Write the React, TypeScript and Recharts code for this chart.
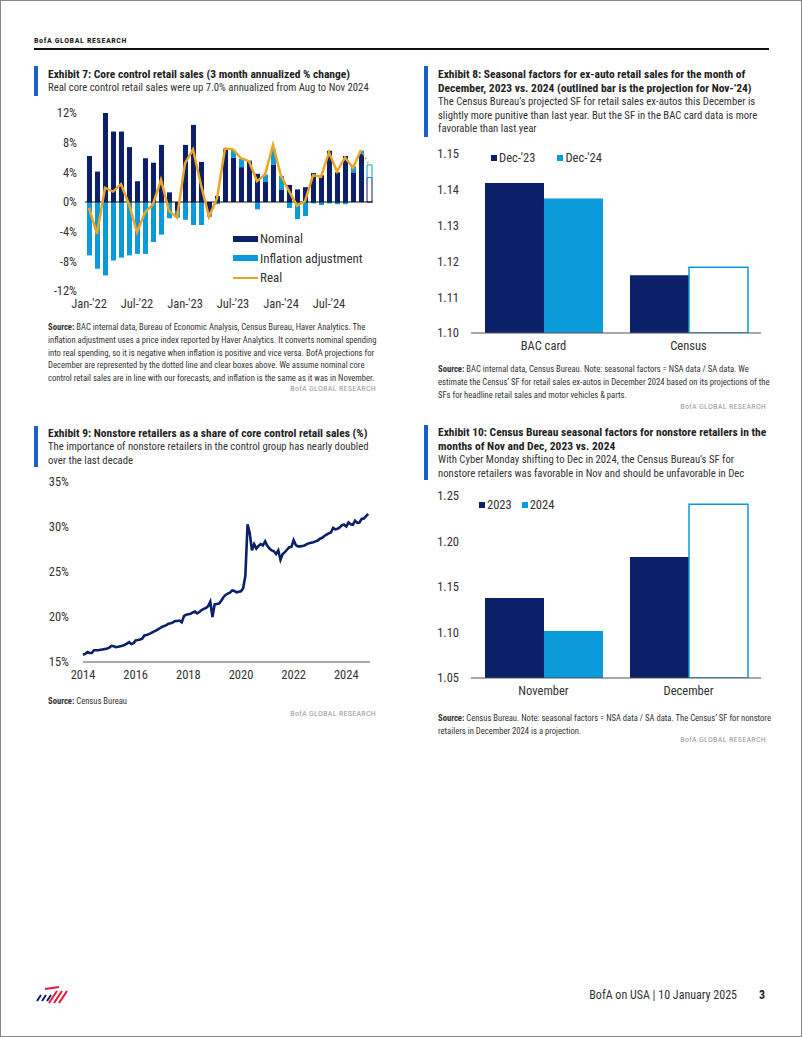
import React from "react";
import {
  Bar,
  BarChart,
  Cell,
  ComposedChart,
  Line,
  LineChart,
  ReferenceLine,
  XAxis,
  YAxis,
} from "recharts";

const FONT =
  "'Liberation Sans Narrow', 'Roboto Condensed', 'DejaVu Sans Condensed', 'Liberation Sans', sans-serif";

const NAVY = "#0B2068";
const LIGHT = "#0B9ADA";
const GOLD = "#EBA625";
const ACCENT = "#1C5FC9";
const TEXT = "#222";

// Exhibit 7: core control retail sales, 3m annualized % change
const monthLabels = [
  "Jan-'22", "Feb-'22", "Mar-'22", "Apr-'22", "May-'22", "Jun-'22",
  "Jul-'22", "Aug-'22", "Sep-'22", "Oct-'22", "Nov-'22", "Dec-'22",
  "Jan-'23", "Feb-'23", "Mar-'23", "Apr-'23", "May-'23", "Jun-'23",
  "Jul-'23", "Aug-'23", "Sep-'23", "Oct-'23", "Nov-'23", "Dec-'23",
  "Jan-'24", "Feb-'24", "Mar-'24", "Apr-'24", "May-'24", "Jun-'24",
  "Jul-'24", "Aug-'24", "Sep-'24", "Oct-'24", "Nov-'24", "Dec-'24",
];
const nominal = [
  6.2, 4.1, 12.0, 9.5, 9.5, 7.4, 2.8, 5.9, 5.3, 7.7, 1.3, -1.2,
  7.7, 10.4, 5.4, -1.4, 0.8, 7.1, 6.0, 4.7, 5.5, 3.8, 2.7, 5.0,
  1.7, 2.3, 1.7, 2.0, 3.9, 3.6, 6.9, 4.0, 6.2, 4.0, 6.5, 3.3,
];
const inflationAdj = [
  -7.2, -9.0, -9.9, -7.9, -7.5, -7.2, -7.0, -7.0, -5.4, -4.4, -2.2, -0.9,
  -2.4, -3.1, -3.1, -0.6, -0.3, 0.1, 1.0, 1.1, 0.1, -1.0, 1.0, 2.1,
  1.8, -0.8, -2.3, -1.9, -0.2, -0.4, -0.2, -0.3, -0.3, 0.8, 0.4, 1.7,
];
const real = [
  -0.8, -4.3, 1.9, 1.4, 2.4, -0.3, -4.1, -1.4, -0.3, 3.0, -1.2, -2.1,
  5.2, 7.1, 2.3, -2.0, 0.5, 7.2, 7.1, 5.9, 5.5, 2.8, 3.7, 7.7,
  3.5, 1.5, -0.5, 0.1, 3.6, 3.4, 6.7, 4.1, 6.0, 4.6, 7.0,
];
const realProjected = [7.0, 5.0]; // Nov-'24 actual -> Dec-'24 projection
const projectionFrom = 34;

const ex7Data = monthLabels.map((month, i) => ({
  month,
  nominal: nominal[i],
  inflation: inflationAdj[i],
  real: i < real.length ? real[i] : null,
  projected: i >= projectionFrom ? realProjected[i - projectionFrom] : null,
}));

// Exhibit 8: seasonal factors, retail sales ex-autos
const ex8Categories = ["BAC card", "Census"];
const ex8Dec23 = [1.1419, 1.1161];
const ex8Dec24 = [1.1376, 1.1184];
const ex8Data = ex8Categories.map((name, i) => ({
  name,
  prev: ex8Dec23[i],
  curr: ex8Dec24[i],
}));

// Exhibit 9: nonstore share of control group, monthly from Jan 2014
const startYear = 2014;
const nonstoreShare = [
  15.8, 15.9, 16.1, 16.0, 16.0, 16.3, 16.3, 16.3, 16.35, 16.4, 16.45, 16.5,
  16.6, 16.8, 16.75, 16.65, 16.7, 16.75, 16.8, 16.9, 17.05, 17.2, 17.0, 17.1,
  17.4, 17.45, 17.5, 17.6, 17.95, 18.0, 18.1, 18.2, 18.35, 18.45, 18.6, 18.75,
  18.9, 19.0, 19.1, 19.25, 19.3, 19.4, 19.55, 19.55, 19.6, 19.4, 20.1, 20.25,
  20.3, 20.35, 20.5, 20.6, 20.4, 20.55, 20.75, 20.9, 21.0, 21.2, 21.7, 20.0,
  21.4, 21.45, 21.5, 21.8, 22.2, 22.45, 22.6, 22.7, 22.95, 22.9, 22.75, 22.8,
  22.85, 23.2, 24.6, 30.3, 29.3, 27.4, 28.1, 27.6, 27.9, 28.1, 27.95, 28.4,
  27.9, 27.6, 27.4, 27.3, 27.0, 27.4, 26.35, 27.0, 27.2, 27.5, 27.75, 27.8,
  28.55, 28.0, 27.85, 27.85, 27.9, 27.95, 28.1, 28.2, 28.25, 28.3, 28.4, 28.5,
  28.7, 28.8, 29.0, 29.15, 29.3, 29.4, 29.9, 29.75, 29.8, 29.95, 30.2, 30.25,
  30.05, 30.5, 30.3, 30.25, 30.7, 30.45, 30.5, 30.9, 30.95, 31.2, 31.45,
];
const ex9Data = nonstoreShare.map((v, i) => ({ t: startYear + i / 12, v }));
const ex9Years = [2014, 2016, 2018, 2020, 2022, 2024];

// Exhibit 10: nonstore seasonal factors
const ex10Categories = ["November", "December"];
const ex10Y2023 = [1.138, 1.183];
const ex10Y2024 = [1.1016, 1.241];
const ex10Data = ex10Categories.map((name, i) => ({
  name,
  prev: ex10Y2023[i],
  curr: ex10Y2024[i],
}));

const tickStyle = { fontSize: 12.5, fill: "#333", fontFamily: FONT };

function Accent({ left, top, height }: { left: number; top: number; height: number }) {
  return (
    <div
      style={{ position: "absolute", left, top, width: 4, height, background: ACCENT }}
    />
  );
}

function Heading({
  left,
  top,
  title,
  sub,
}: {
  left: number;
  top: number;
  title: string[];
  sub: string[];
}) {
  return (
    <div style={{ position: "absolute", left, top, color: TEXT, whiteSpace: "nowrap" }}>
      {title.map((t) => (
        <div key={t} style={{ fontWeight: 700, fontSize: 11.5, lineHeight: "14px" }}>
          {t}
        </div>
      ))}
      {sub.map((t) => (
        <div key={t} style={{ fontSize: 10.7, lineHeight: "13.5px", color: "#333" }}>
          {t}
        </div>
      ))}
    </div>
  );
}

function Source({ left, top, lines }: { left: number; top: number; lines: string[] }) {
  return (
    <div style={{ position: "absolute", left, top, color: "#333", whiteSpace: "nowrap" }}>
      {lines.map((t, i) => (
        <div key={t} style={{ fontSize: 8.6, lineHeight: "12.8px" }}>
          {i === 0 ? (
            <>
              <b>Source:</b>
              {t}
            </>
          ) : (
            t
          )}
        </div>
      ))}
    </div>
  );
}

function Credit({ right, top }: { right: number; top: number }) {
  return (
    <div
      style={{
        position: "absolute",
        left: right - 200,
        width: 200,
        top,
        textAlign: "right",
        fontSize: 8,
        letterSpacing: 0.3,
        color: "#999",
      }}
    >
      BofA GLOBAL RESEARCH
    </div>
  );
}

function SwatchLegend({
  left,
  top,
  items,
}: {
  left: number;
  top: number;
  items: { label: string; color: string; gap: number }[];
}) {
  return (
    <div style={{ position: "absolute", left, top, display: "flex", fontSize: 12.5, color: "#333" }}>
      {items.map((it) => (
        <div key={it.label} style={{ display: "flex", alignItems: "center", marginRight: it.gap }}>
          <span style={{ width: 6, height: 6, background: it.color, marginRight: 2 }} />
          {it.label}
        </div>
      ))}
    </div>
  );
}

function Logo() {
  return (
    <svg style={{ position: "absolute", left: 34, top: 984 }} width={34} height={20}>
      {[0, 1, 2].map((k) => (
        <line key={"n" + k} x1={2 + k * 5} y1={16} x2={6 + k * 5} y2={10} stroke={NAVY} strokeWidth={2} />
      ))}
      {[0, 1, 2].map((k) => (
        <line key={"r" + k} x1={14 + k * 5} y1={18} x2={22 + k * 5} y2={6} stroke="#E31837" strokeWidth={2} />
      ))}
      <line x1={10} y1={4} x2={24} y2={2} stroke="#E31837" strokeWidth={2} />
    </svg>
  );
}

export default function App() {
  const lastIdx = monthLabels.length - 1;
  return (
    <div
      style={{
        position: "relative",
        width: 802,
        height: 1037,
        boxSizing: "border-box",
        border: "1px solid #888",
        background: "#fff",
        fontFamily: FONT,
        overflow: "hidden",
      }}
    >
      <style>{"body{margin:0}"}</style>

      {/* page header */}
      <div
        style={{
          position: "absolute",
          left: 33,
          top: 35,
          fontSize: 8,
          fontWeight: 700,
          letterSpacing: 0.6,
          color: "#222",
        }}
      >
        BofA GLOBAL RESEARCH
      </div>
      <div style={{ position: "absolute", left: 33, top: 47, width: 735, height: 1.5, background: "#111" }} />

      {/* Exhibit 7 */}
      <Accent left={33} top={65} height={30} />
      <Heading
        left={47}
        top={66}
        title={["Exhibit 7: Core control retail sales (3 month annualized % change)"]}
        sub={["Real core control retail sales were up 7.0% annualized from Aug to Nov 2024"]}
      />
      <div style={{ position: "absolute", left: 30, top: 100 }}>
        <ComposedChart
          width={342}
          height={215}
          data={ex7Data}
          stackOffset="sign"
          margin={{ top: 12, right: 0, bottom: 0, left: 0 }}
          barSize={5}
        >
          <XAxis
            dataKey="month"
            interval={5}
            axisLine={false}
            tickLine={false}
            tick={tickStyle}
            height={25}
          />
          <YAxis
            domain={[-12, 12]}
            ticks={[-12, -8, -4, 0, 4, 8, 12]}
            tickFormatter={(v) => `${v}%`}
            axisLine={false}
            tickLine={false}
            tick={tickStyle}
            width={54}
          />
          <Bar dataKey="nominal" stackId="s" fill={NAVY} isAnimationActive={false}>
            {ex7Data.map((d, i) => (
              <Cell
                key={d.month}
                fill={i === lastIdx ? "#fff" : NAVY}
                stroke={i === lastIdx ? NAVY : "none"}
                strokeWidth={1}
              />
            ))}
          </Bar>
          <Bar dataKey="inflation" stackId="s" fill={LIGHT} isAnimationActive={false}>
            {ex7Data.map((d, i) => (
              <Cell
                key={d.month}
                fill={i === lastIdx ? "#fff" : LIGHT}
                stroke={i === lastIdx ? LIGHT : "none"}
                strokeWidth={1}
              />
            ))}
          </Bar>
          <ReferenceLine y={0} stroke="#111" strokeWidth={1.2} />
          <Line
            dataKey="real"
            stroke={GOLD}
            strokeWidth={2.5}
            dot={false}
            isAnimationActive={false}
          />
          <Line
            dataKey="projected"
            stroke={GOLD}
            strokeWidth={2}
            strokeDasharray="1.5 3"
            dot={false}
            isAnimationActive={false}
          />
        </ComposedChart>
      </div>
      {/* Exhibit 7 legend */}
      <div style={{ position: "absolute", left: 232, top: 228, fontSize: 13, color: "#333" }}>
        {[
          { label: "Nominal", kind: "bar", color: NAVY },
          { label: "Inflation adjustment", kind: "bar", color: LIGHT },
          { label: "Real", kind: "line", color: GOLD },
        ].map((it) => (
          <div key={it.label} style={{ display: "flex", alignItems: "center", height: 19.5 }}>
            <span
              style={{
                width: 25,
                height: it.kind === "bar" ? 6 : 2.5,
                background: it.color,
                marginRight: 2,
              }}
            />
            {it.label}
          </div>
        ))}
      </div>
      <Source
        left={47}
        top={320}
        lines={[
          " BAC internal data, Bureau of Economic Analysis, Census Bureau, Haver Analytics. The",
          "inflation adjustment uses a price index reported by Haver Analytics. It converts nominal spending",
          "into real spending, so it is negative when inflation is positive and vice versa. BofA projections for",
          "December are represented by the dotted line and clear boxes above. We assume nominal core",
          "control retail sales are in line with our forecasts, and inflation is the same as it was in November.",
        ]}
      />
      <Credit right={375} top={383} />

      {/* Exhibit 8 */}
      <Accent left={423} top={65} height={71} />
      <Heading
        left={437}
        top={66}
        title={[
          "Exhibit 8: Seasonal factors for ex-auto retail sales for the month of",
          "December, 2023 vs. 2024 (outlined bar is the projection for Nov-’24)",
        ]}
        sub={[
          "The Census Bureau’s projected SF for retail sales ex-autos this December is",
          "slightly more punitive than last year. But the SF in the BAC card data is more",
          "favorable than last year",
        ]}
      />
      <div style={{ position: "absolute", left: 410, top: 143 }}>
        <BarChart
          width={350}
          height={219}
          data={ex8Data}
          margin={{ top: 10, right: 0, bottom: 0, left: 0 }}
          barGap={0}
          barSize={59}
        >
          <XAxis
            dataKey="name"
            axisLine={{ stroke: "#555", strokeWidth: 1.2 }}
            tickLine={false}
            tick={tickStyle}
            height={30}
          />
          <YAxis
            domain={[1.1, 1.15]}
            ticks={[1.1, 1.11, 1.12, 1.13, 1.14, 1.15]}
            tickFormatter={(v) => v.toFixed(2)}
            axisLine={false}
            tickLine={false}
            tick={tickStyle}
            tickMargin={6}
            width={60}
            allowDataOverflow
          />
          <Bar dataKey="prev" fill={NAVY} isAnimationActive={false} />
          <Bar dataKey="curr" fill={LIGHT} isAnimationActive={false}>
            {ex8Data.map((d) => (
              <Cell
                key={d.name}
                fill={d.name === "Census" ? "#fff" : LIGHT}
                stroke={d.name === "Census" ? LIGHT : "none"}
                strokeWidth={1.5}
              />
            ))}
          </Bar>
        </BarChart>
      </div>
      <SwatchLegend
        left={490}
        top={149}
        items={[
          { label: "Dec-'23", color: NAVY, gap: 22 },
          { label: "Dec-'24", color: LIGHT, gap: 0 },
        ]}
      />
      <Source
        left={437}
        top={362}
        lines={[
          " BAC internal data, Census Bureau. Note: seasonal factors = NSA data / SA data. We",
          "estimate the Census’ SF for retail sales ex-autos in December 2024 based on its projections of the",
          "SFs for headline retail sales and motor vehicles & parts.",
        ]}
      />
      <Credit right={765} top={401} />

      {/* Exhibit 9 */}
      <Accent left={33} top={425} height={41} />
      <Heading
        left={47}
        top={425}
        title={["Exhibit 9: Nonstore retailers as a share of core control retail sales (%)"]}
        sub={[
          "The importance of nonstore retailers in the control group has nearly doubled",
          "over the last decade",
        ]}
      />
      <div style={{ position: "absolute", left: 20, top: 471 }}>
        <LineChart
          width={349}
          height={220}
          data={ex9Data}
          margin={{ top: 10, right: 0, bottom: 0, left: 0 }}
        >
          <XAxis
            dataKey="t"
            type="number"
            domain={[2014, 2024.9]}
            ticks={ex9Years}
            axisLine={{ stroke: "#555", strokeWidth: 1.2 }}
            tickLine={false}
            tick={tickStyle}
            height={30}
          />
          <YAxis
            domain={[15, 35]}
            ticks={[15, 20, 25, 30, 35]}
            tickFormatter={(v) => `${v}%`}
            axisLine={false}
            tickLine={false}
            tick={tickStyle}
            tickMargin={8}
            width={62}
          />
          <Line
            dataKey="v"
            stroke={NAVY}
            strokeWidth={2.6}
            dot={false}
            isAnimationActive={false}
          />
        </LineChart>
      </div>
      <Source left={47} top={694} lines={[" Census Bureau"]} />
      <Credit right={375} top={708} />

      {/* Exhibit 10 */}
      <Accent left={423} top={424} height={55} />
      <Heading
        left={437}
        top={424}
        title={[
          "Exhibit 10: Census Bureau seasonal factors for nonstore retailers in the",
          "months of Nov and Dec, 2023 vs. 2024",
        ]}
        sub={[
          "With Cyber Monday shifting to Dec in 2024, the Census Bureau’s SF for",
          "nonstore retailers was favorable in Nov and should be unfavorable in Dec",
        ]}
      />
      <div style={{ position: "absolute", left: 410, top: 485 }}>
        <BarChart
          width={350}
          height={222}
          data={ex10Data}
          margin={{ top: 10, right: 0, bottom: 0, left: 0 }}
          barGap={0}
          barSize={59}
        >
          <XAxis
            dataKey="name"
            axisLine={{ stroke: "#555", strokeWidth: 1.2 }}
            tickLine={false}
            tick={tickStyle}
            height={30}
          />
          <YAxis
            domain={[1.05, 1.25]}
            ticks={[1.05, 1.1, 1.15, 1.2, 1.25]}
            tickFormatter={(v) => v.toFixed(2)}
            axisLine={false}
            tickLine={false}
            tick={tickStyle}
            tickMargin={6}
            width={60}
            allowDataOverflow
          />
          <Bar dataKey="prev" fill={NAVY} isAnimationActive={false} />
          <Bar dataKey="curr" fill={LIGHT} isAnimationActive={false}>
            {ex10Data.map((d) => (
              <Cell
                key={d.name}
                fill={d.name === "December" ? "#fff" : LIGHT}
                stroke={d.name === "December" ? LIGHT : "none"}
                strokeWidth={1.5}
              />
            ))}
          </Bar>
        </BarChart>
      </div>
      <SwatchLegend
        left={478}
        top={496}
        items={[
          { label: "2023", color: NAVY, gap: 10 },
          { label: "2024", color: LIGHT, gap: 0 },
        ]}
      />
      <Source
        left={437}
        top={711}
        lines={[
          " Census Bureau. Note: seasonal factors = NSA data / SA data. The Census’ SF for nonstore",
          "retailers in December 2024 is a projection.",
        ]}
      />
      <Credit right={765} top={734} />

      {/* footer */}
      <Logo />
      <div style={{ position: "absolute", left: 540, width: 196, top: 987, textAlign: "right", fontSize: 12, color: "#333" }}>
        BofA on USA | 10 January 2025
      </div>
      <div style={{ position: "absolute", left: 758, top: 987, fontSize: 12, fontWeight: 700, color: "#222" }}>
        3
      </div>
    </div>
  );
}
